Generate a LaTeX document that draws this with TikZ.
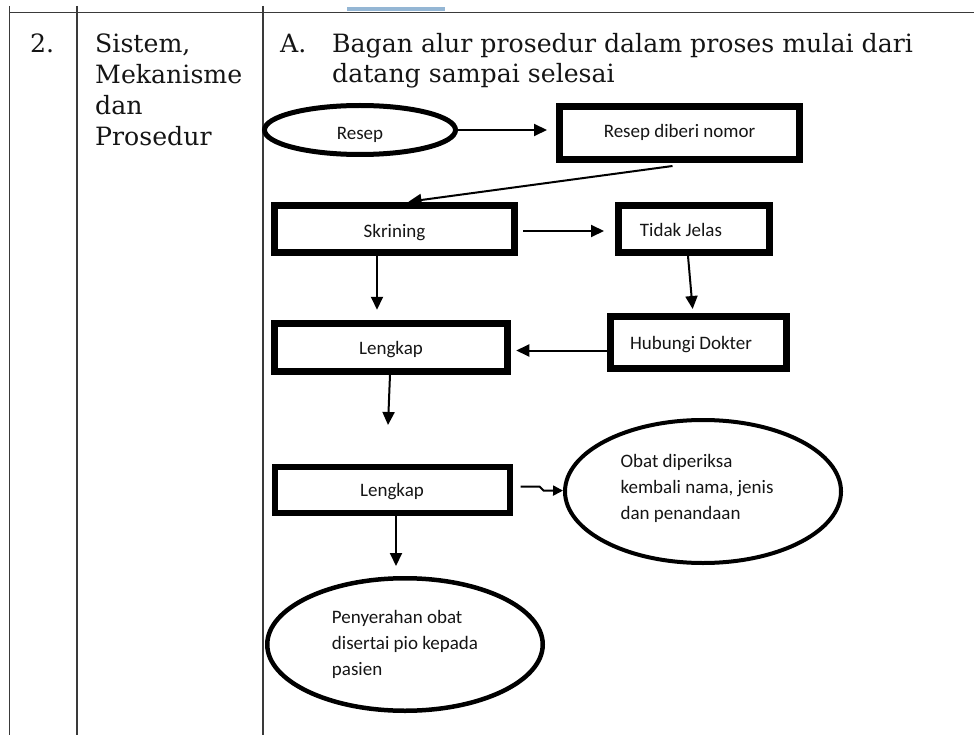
\documentclass[tikz,border=0pt]{standalone}
\usepackage{fontspec}
\setmainfont{DejaVu Serif}
\newfontfamily\flowfont{Carlito}
\usetikzlibrary{arrows.meta,shapes.geometric}
\definecolor{tabline}{HTML}{3A3A3A}
\definecolor{barblue}{HTML}{94B6D4}
\definecolor{txt}{HTML}{151515}
\begin{document}
\begin{tikzpicture}[x=1pt,y=-1pt,
  tabrule/.style={draw=tabline,line width=1.3pt},
  headtxt/.style={anchor=base west,inner sep=0pt,text=txt,font=\fontsize{25.2}{31}\selectfont},
  boxnode/.style={draw=black,line width=7pt,rectangle,inner sep=0pt,text depth=0pt,text=txt,font=\flowfont\fontsize{19}{26}\selectfont},
  ellnode/.style={draw=black,ellipse,inner sep=0pt,align=left,text=txt,font=\flowfont\fontsize{19}{26}\selectfont},
  arr/.style={draw=black,line width=2pt,-{Triangle[length=13pt,width=12pt]}},
  smallarr/.style={draw=black,line width=2pt,line join=miter,-{Triangle[length=10pt,width=10pt]}}]
\useasboundingbox (0,0) rectangle (974,735);
% table
\draw[tabrule] (9.5,12.5) -- (974,12.5);
\draw[tabrule] (9.5,6) -- (9.5,735);
\draw[tabrule] (77,6) -- (77,735);
\draw[tabrule] (263,6) -- (263,735);
\fill[barblue] (347,7) rectangle (445,11);
% table texts
\node[headtxt] (no) at (30,53) {2.};
\node[headtxt] (c1) at (95,53) {Sistem,};
\node[headtxt] (c2) at (95,84) {Mekanisme};
\node[headtxt] (c3) at (95,115) {dan};
\node[headtxt] (c4) at (95,146) {Prosedur};
\node[headtxt] (ha) at (280,53) {A.};
\node[headtxt] (h1) at (332,53) {Bagan alur prosedur dalam proses mulai dari};
\node[headtxt] (h2) at (332,83) {datang sampai selesai};
% flow nodes
\node[ellnode,line width=5pt,minimum width=191pt,minimum height=49pt,text height=19pt,text depth=0pt] (resep) at (360,130) {Resep};
\node[boxnode,minimum width=240pt,minimum height=53pt,text height=10pt] (nomor) at (679.5,133) {Resep diberi nomor};
\node[boxnode,minimum width=240pt,minimum height=47pt,text height=17pt] (skrining) at (394.5,229) {Skrining};
\node[boxnode,minimum width=151pt,minimum height=47pt,text height=15pt] (tj) at (694,229) {Tidak Jelas\hspace*{26pt}};
\node[boxnode,minimum width=176pt,minimum height=52pt,text height=13pt] (hub) at (698.5,342.5) {Hubungi Dokter\hspace*{15pt}};
\node[boxnode,minimum width=233pt,minimum height=48pt,line width=6.5pt,text height=14pt] (lengkapA) at (391,347.5) {Lengkap};
\node[boxnode,minimum width=235pt,minimum height=46pt,line width=6pt,text height=13pt] (lengkapB) at (392,489.5) {Lengkap};
\node[ellnode,line width=4pt,minimum width=276pt,minimum height=143pt] (obat) at (703,491.5)
  {\raisebox{3pt}[\height][\depth]{\begin{tabular}{@{}l@{}}Obat diperiksa\\kembali nama, jenis\hspace*{12pt}\\dan penandaan\end{tabular}}};
\node[ellnode,line width=4.5pt,minimum width=275.5pt,minimum height=132.5pt] (pen) at (405,644.5)
  {Penyerahan obat\\disertai pio kepada\hspace*{17pt}\\pasien};
\coordinate (free) at (388,425);
% connectors
\draw[arr,shorten >=9pt] (resep.east) -- (nomor.west |- resep.east);
\draw[arr,shorten >=2pt] ([shift={(-7,3)}]nomor.south) -- ([shift={(12,0)}]skrining.north);
\draw[arr,shorten <=5pt,shorten >=11pt] ([shift={(0,2)}]skrining.east) -- ([shift={(0,2)}]skrining.east -| tj.west);
\draw[arr,shorten >=4pt] ([shift={(-6,0)}]tj.south) -- ([shift={(-5.5,0)}]hub.north);
\draw[arr,shorten >=5.5pt] ([shift={(0,8)}]hub.west) -- ([shift={(0,8)}]hub.west -| lengkapA.east);
\draw[arr,shorten >=10.5pt] ([shift={(-17.5,0)}]skrining.south) -- ([shift={(-17.5,0)}]skrining.south |- lengkapA.north);
\draw[arr] ([shift={(-1,0)}]lengkapA.south) -- (free);
\draw[smallarr] ([shift={(8,-3)}]lengkapB.east) -- ++(19,0) -- ++(4,4) -- (obat);
\draw[arr,shorten >=10pt] ([shift={(4,0)}]lengkapB.south) -- ([shift={(4,0)}]lengkapB.south |- pen.north);
\end{tikzpicture}
\end{document}
